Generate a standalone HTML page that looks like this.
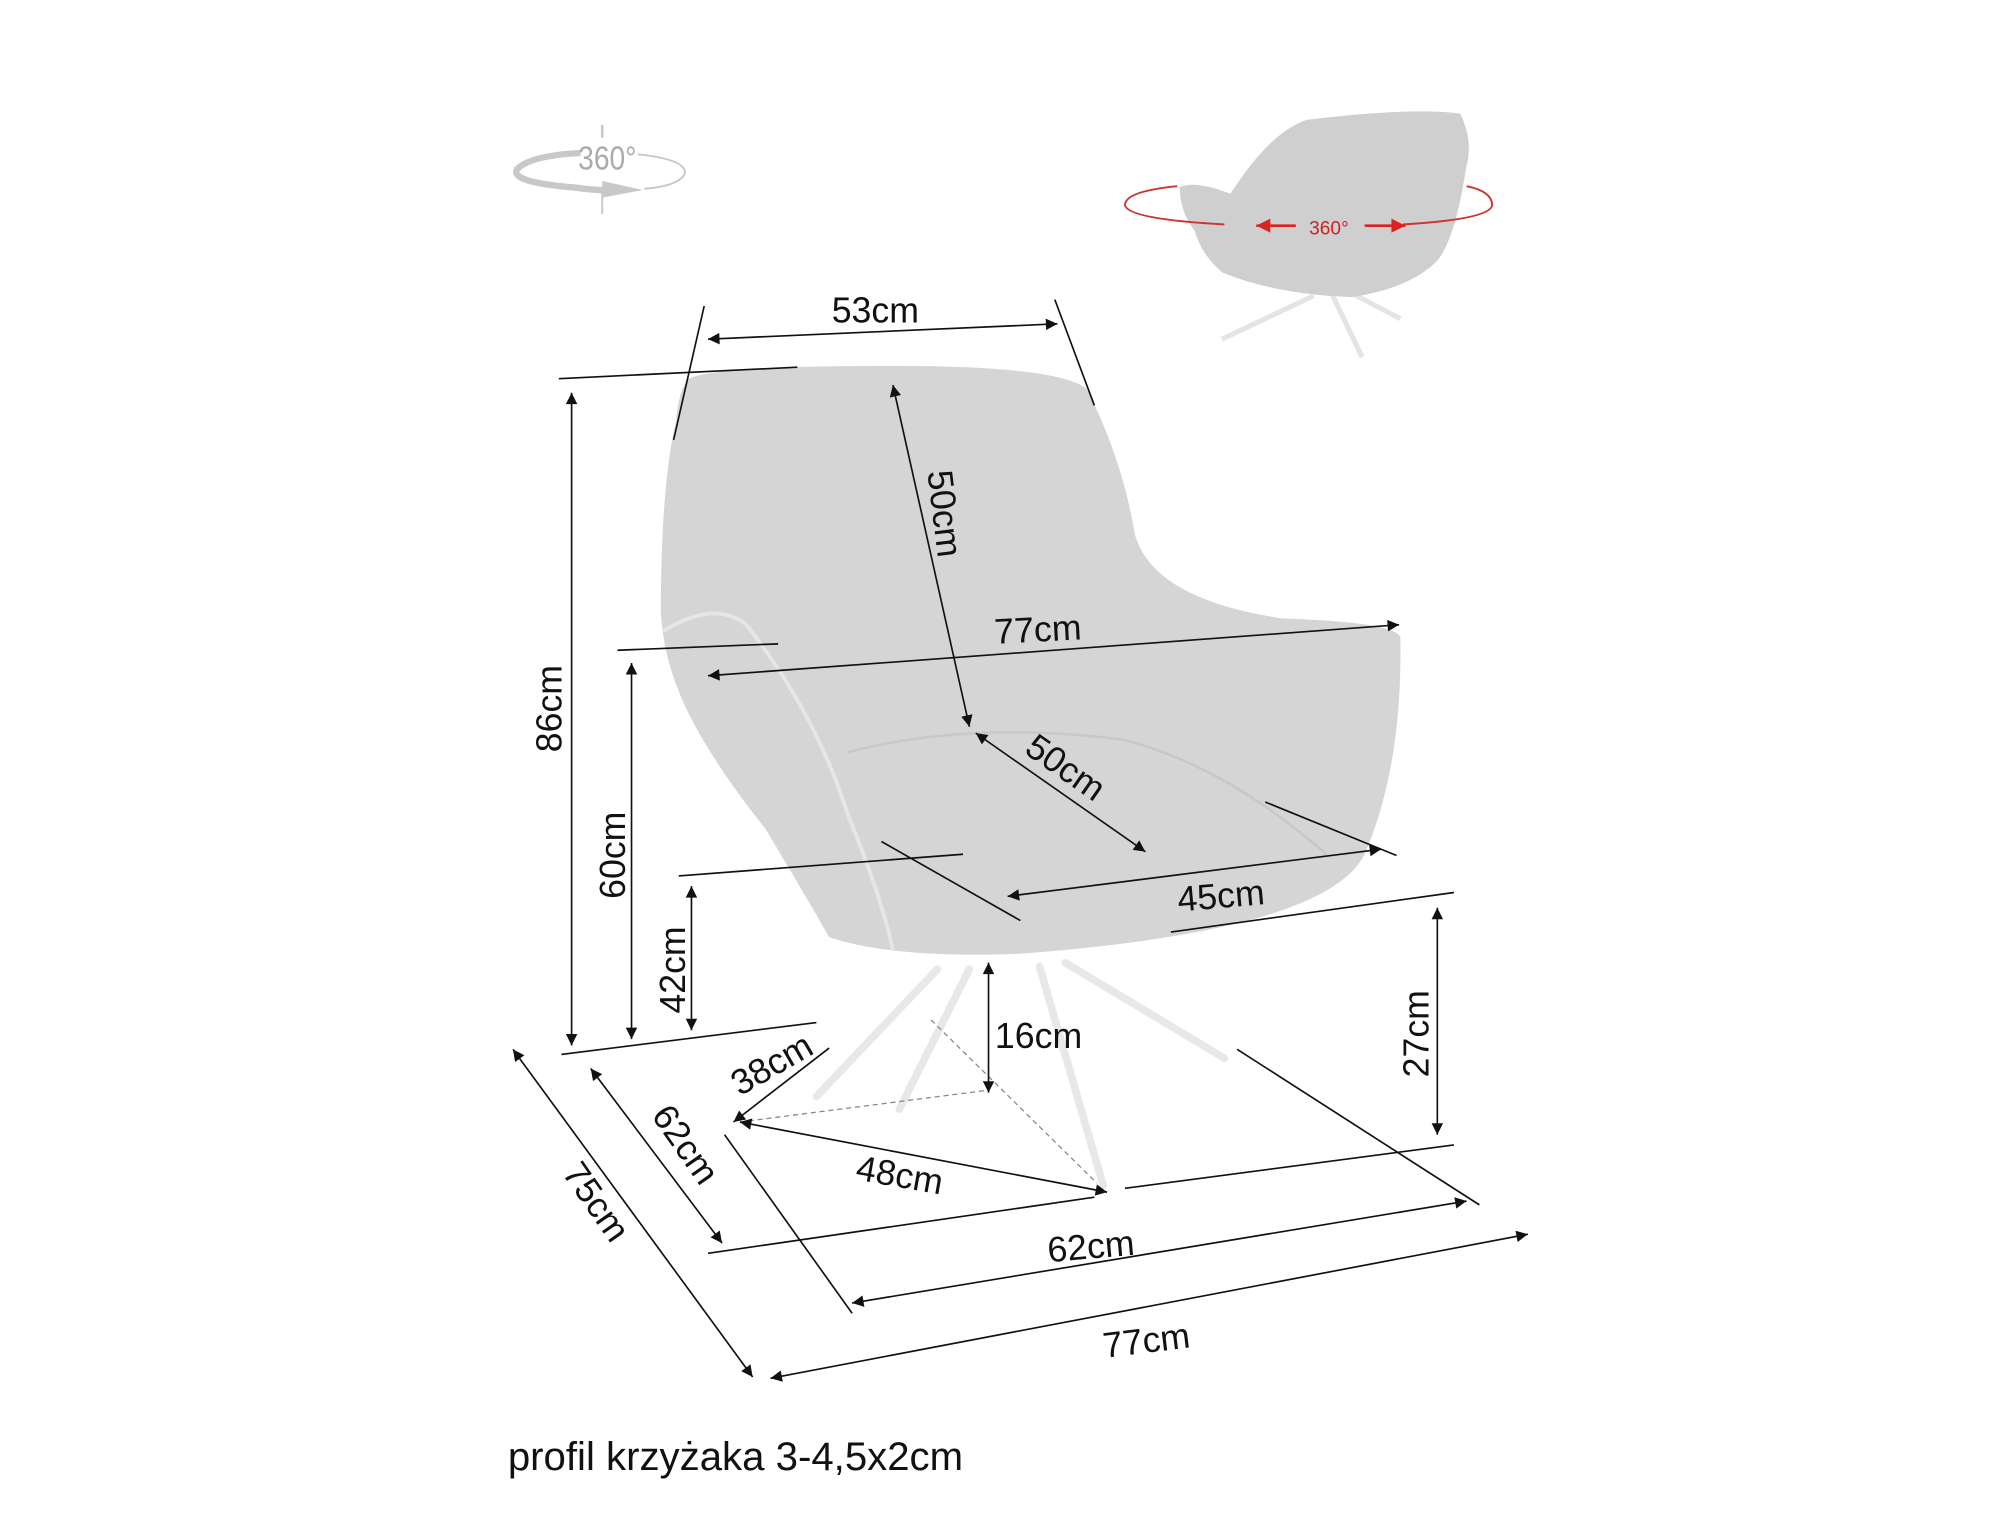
<!DOCTYPE html>
<html><head><meta charset="utf-8"><style>html,body{margin:0;padding:0;background:#fff}svg{display:block}</style></head>
<body>
<svg width="2000" height="1530" viewBox="0 0 1568 1200" xmlns="http://www.w3.org/2000/svg" font-family="Liberation Sans, sans-serif">
<defs>
<marker id="a" viewBox="0 0 10 10" refX="10" refY="5" markerWidth="12" markerHeight="9" orient="auto-start-reverse" markerUnits="userSpaceOnUse"><path d="M0,0 L10,5 L0,10 z" fill="#111"/></marker>
<marker id="r" viewBox="0 0 10 10" refX="10" refY="5" markerWidth="14" markerHeight="11" orient="auto-start-reverse" markerUnits="userSpaceOnUse"><path d="M0,0 L10,5 L0,10 z" fill="#d22"/></marker>
</defs>
<!-- 360 icon -->
<g fill="none" stroke="#c8c8c8">
<path d="M450,147 Q400,143 405,133 Q415,122 455,120" stroke-width="5"/>
<path d="M500,121 Q538,125 537,136 Q532,146 505,148" stroke-width="1.5"/>
<line x1="472" y1="98" x2="472" y2="108" stroke-width="2"/><line x1="472" y1="148" x2="472" y2="168" stroke-width="1.5"/>
<path d="M450,147 Q470,150 485,149" stroke-width="5"/>
</g>
<path d="M472,142 L504,149 L472,155z" fill="#c8c8c8"/>
<text x="476" y="133" font-size="26" fill="#aaa" text-anchor="middle" transform="scale(0.85 1) translate(84 0)">360°</text>
<!-- small back chair -->
<g>
<g stroke="#e4e4e4" stroke-width="4" fill="none"><line x1="1030" y1="232" x2="958" y2="266"/><line x1="1045" y1="232" x2="1068" y2="280"/><line x1="1060" y1="230" x2="1098" y2="250"/></g>
<g transform="translate(925,88) scale(1.17,1) translate(-925,-72)">
<path d="M925,131 Q935,125 959,136 Q985,88 1010,78 Q1080,68 1113,73 Q1122,95 1117,115 Q1110,170 1098,188 Q1080,210 1040,217 Q990,215 954,198 Q940,185 935,165 Q925,150 925,131z" fill="#cfcfcf"/>
</g>
<path d="M923,146 Q882,150 882,161 Q885,172 960,176" fill="none" stroke="#c33" stroke-width="1.5"/>
<path d="M1150,146 Q1170,150 1170,161 Q1168,172 1100,176" fill="none" stroke="#c33" stroke-width="1.5"/>
<line x1="1016" y1="177" x2="985" y2="177" stroke="#d22" stroke-width="2" marker-end="url(#r)"/>
<line x1="1070" y1="177" x2="1102" y2="177" stroke="#d22" stroke-width="2" marker-end="url(#r)"/>
<text x="1042" y="184" font-size="15" fill="#c22" text-anchor="middle">360°</text>
</g>
<!-- main chair -->
<path d="M540,297 Q560,287 700,287 Q830,287 852,305 Q880,360 890,420 Q905,470 1005,485 Q1095,488 1098,500 Q1100,600 1070,670 Q1040,730 800,748 Q700,752 650,735 Q630,700 600,650 Q560,600 540,560 Q520,520 518,480 Q518,380 530,330 Q532,305 540,297z" fill="#d5d5d5"/>
<path d="M520,495 Q560,470 585,490 Q640,560 665,640 Q690,700 700,745" fill="none" stroke="#e6e6e6" stroke-width="3"/>
<path d="M665,590 Q760,565 880,580 Q960,600 1040,670" fill="none" stroke="#c8c8c8" stroke-width="2"/>
<!-- legs -->
<g stroke="#e8e8e8" stroke-width="6" fill="none" stroke-linecap="round">
<line x1="735" y1="760" x2="640" y2="860"/><line x1="815" y1="758" x2="865" y2="930"/><line x1="835" y1="755" x2="960" y2="830"/><line x1="760" y1="760" x2="705" y2="870"/>
</g>
<g stroke="#888" stroke-width="1" stroke-dasharray="4,3" fill="none"><line x1="730" y1="800" x2="860" y2="928"/><line x1="580" y1="880" x2="775" y2="855"/></g>
<!-- dimension lines -->
<g stroke="#111" stroke-width="1.3" fill="none">
<line x1="552" y1="240" x2="528" y2="345"/><line x1="827" y1="235" x2="858" y2="318"/>
<line x1="555" y1="266" x2="829" y2="254" marker-start="url(#a)" marker-end="url(#a)"/>
<line x1="438" y1="297" x2="625" y2="288"/>
<line x1="448" y1="308" x2="448" y2="820" marker-start="url(#a)" marker-end="url(#a)"/>
<line x1="440" y1="827" x2="640" y2="802"/>
<line x1="484" y1="510" x2="610" y2="505"/>
<line x1="495" y1="520" x2="495" y2="815" marker-start="url(#a)" marker-end="url(#a)"/>
<line x1="532" y1="687" x2="755" y2="670"/>
<line x1="542" y1="695" x2="542" y2="808" marker-start="url(#a)" marker-end="url(#a)"/>
<line x1="700" y1="302" x2="760" y2="570" marker-start="url(#a)" marker-end="url(#a)"/>
<line x1="555" y1="530" x2="1097" y2="490" marker-start="url(#a)" marker-end="url(#a)"/>
<line x1="765" y1="575" x2="898" y2="668" marker-start="url(#a)" marker-end="url(#a)"/>
<line x1="992" y1="629" x2="1095" y2="671"/>
<line x1="790" y1="703" x2="1083" y2="666" marker-start="url(#a)" marker-end="url(#a)"/>
<line x1="691" y1="660" x2="800" y2="722"/>
<line x1="918" y1="731" x2="1140" y2="700"/>
<line x1="1127" y1="712" x2="1127" y2="890" marker-start="url(#a)" marker-end="url(#a)"/>
<line x1="775" y1="755" x2="775" y2="857" marker-start="url(#a)" marker-end="url(#a)"/>
<line x1="575" y1="880" x2="650" y2="822" marker-start="url(#a)"/>
<line x1="580" y1="880" x2="868" y2="935" marker-start="url(#a)" marker-end="url(#a)"/>
<line x1="970" y1="823" x2="1160" y2="945"/>
<line x1="555" y1="983" x2="858" y2="939"/>
<line x1="882" y1="932" x2="1140" y2="898"/>
<line x1="568" y1="890" x2="668" y2="1030"/>
<line x1="463" y1="838" x2="566" y2="975" marker-start="url(#a)" marker-end="url(#a)"/>
<line x1="668" y1="1022" x2="1150" y2="942" marker-start="url(#a)" marker-end="url(#a)"/>
<line x1="402" y1="823" x2="590" y2="1080" marker-start="url(#a)" marker-end="url(#a)"/>
<line x1="604" y1="1081" x2="1198" y2="968" marker-start="url(#a)" marker-end="url(#a)"/>
</g>
<g font-size="28" fill="#111">
<text x="652" y="253">53cm</text>
<text x="780" y="505" transform="rotate(-3 780 505)">77cm</text>
<text x="924" y="715" transform="rotate(-5 924 715)">45cm</text>
<text x="780" y="822">16cm</text>
<text x="822" y="990" transform="rotate(-5 822 990)">62cm</text>
<text x="866" y="1065" transform="rotate(-7 866 1065)">77cm</text>
<text x="670" y="925" transform="rotate(10 670 925)">48cm</text>
<text x="580" y="860" transform="rotate(-30 580 860)">38cm</text>
<text x="802" y="590" transform="rotate(35 802 590)">50cm</text>
<text x="727" y="370" transform="rotate(83 727 370)">50cm</text>
<text x="440" y="590" transform="rotate(-90 440 590)">86cm</text>
<text x="490" y="705" transform="rotate(-90 490 705)">60cm</text>
<text x="537" y="795" transform="rotate(-90 537 795)">42cm</text>
<text x="1120" y="845" transform="rotate(-90 1120 845)">27cm</text>
<text x="510" y="875" transform="rotate(55 510 875)">62cm</text>
<text x="440" y="920" transform="rotate(55 440 920)">75cm</text>
</g>
<text x="398" y="1153" font-size="31.5" fill="#111">profil krzyżaka 3-4,5x2cm</text>
</svg>
</body></html>
